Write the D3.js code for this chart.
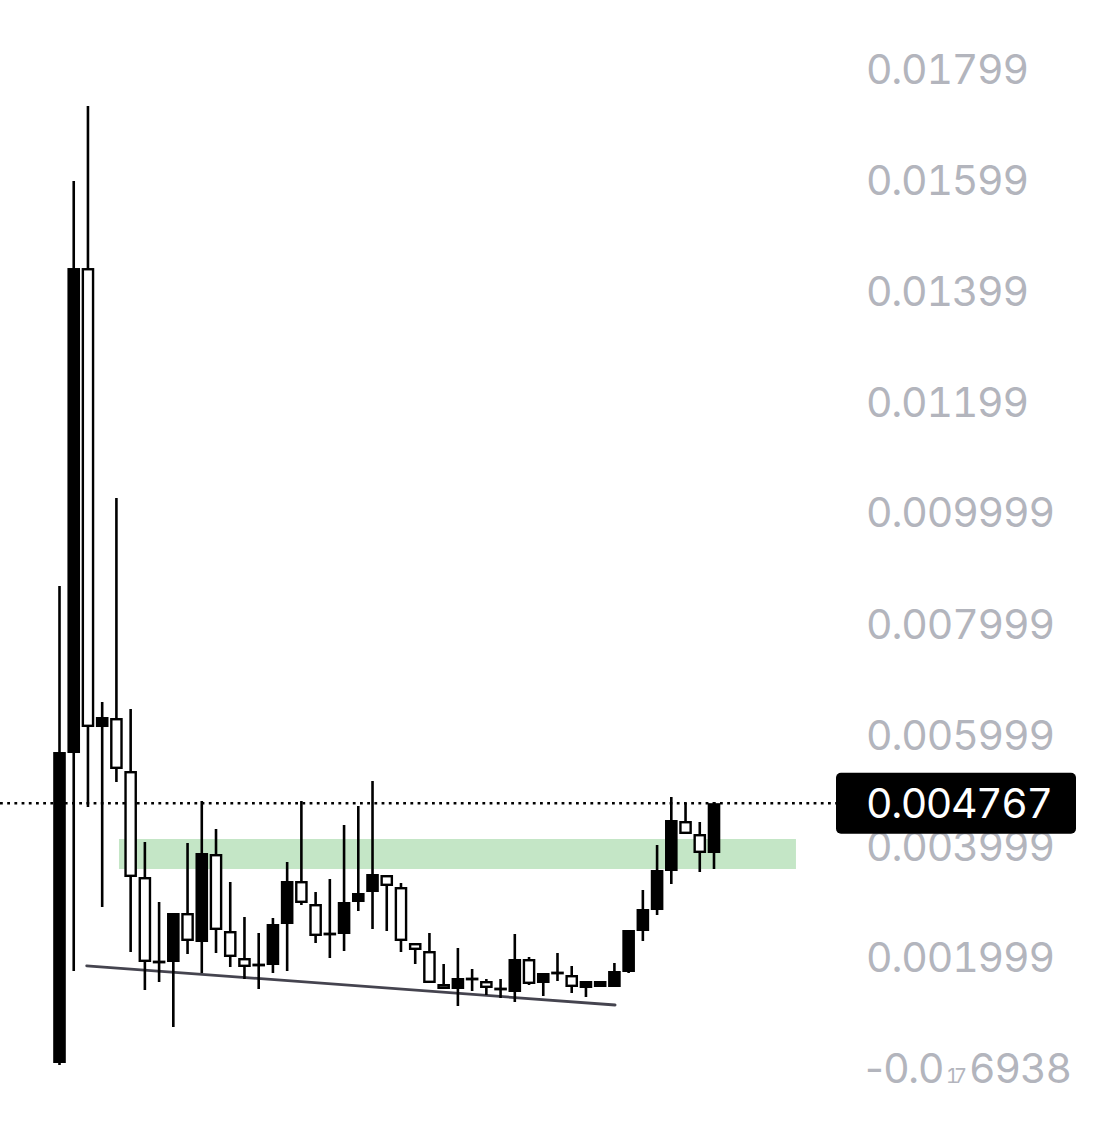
<!DOCTYPE html>
<html>
<head>
<meta charset="utf-8">
<script src="https://cdn.jsdelivr.net/npm/d3@7"></script>
<style>
html,body{margin:0;padding:0;background:#fff;}
svg{display:block;}
text.tab{font-feature-settings:"tnum" 1;font-variant-numeric:tabular-nums;}
</style>
</head>
<body>
<script>
// ---- data ----
const opens  = [0.00009,0.00567,0.0144,0.006138,0.0063,0.005346,0.003438,0.001908,0.001908,0.00279,
                0.002268,0.003852,0.002466,0.00198,0.001854,0.001854,0.002592,0.003366,0.002952,0.002412,
                0.002412,0.002988,0.003168,0.003474,0.003258,0.00225,0.002106,0.001512,0.001422,0.001602,
                0.001566,0.001422,0.001368,0.001962,0.00153,0.00171,0.001674,0.00144,0.001458,0.001458,
                0.001728,0.002466,0.002844,0.003546,0.004446,0.004212,0.00387];
const closes = [0.005688,0.0144,0.006138,0.006318,0.005382,0.003438,0.001908,0.001908,0.00279,0.002286,
                0.00387,0.002484,0.001998,0.001818,0.001854,0.002592,0.003366,0.00297,0.002376,0.002412,
                0.002988,0.00315,0.003492,0.003276,0.002286,0.002124,0.00153,0.001422,0.00162,0.001602,
                0.00144,0.001422,0.001962,0.001512,0.00171,0.00171,0.001458,0.001566,0.001566,0.001746,
                0.002484,0.002862,0.003564,0.004464,0.004212,0.00387,0.004767];
const highs  = [0.008676,0.015966,0.017316,0.006588,0.01026,0.006462,0.004068,0.002988,0.00279,0.00405,
                0.004806,0.004302,0.003348,0.002718,0.00243,0.0027,0.003708,0.004806,0.003168,0.003402,
                0.004374,0.004716,0.005166,0.003474,0.00333,0.00225,0.00243,0.001872,0.00216,0.001782,
                0.001602,0.001602,0.002412,0.001998,0.00171,0.00207,0.001836,0.001566,0.001566,0.00189,
                0.002484,0.003204,0.004014,0.004878,0.00477,0.004428,0.004788];
const lows   = [0.000054,0.001746,0.004698,0.002898,0.005148,0.002088,0.001404,0.001548,0.000738,0.002052,
                0.00171,0.00207,0.001818,0.001602,0.001422,0.00171,0.001746,0.002934,0.00225,0.00198,
                0.002106,0.002826,0.002502,0.002466,0.002088,0.001872,0.00153,0.001422,0.001116,0.001386,
                0.001314,0.00126,0.001188,0.001494,0.001296,0.001566,0.00135,0.001278,0.001458,0.001458,
                0.00171,0.002286,0.002754,0.003312,0.004212,0.003528,0.003582];

const tickValues = [0.01799,0.01599,0.01399,0.01199,0.009999,0.007999,0.005999,0.003999,0.001999,0];
const tickLabels = ["0.01799","0.01599","0.01399","0.01199","0.009999","0.007999","0.005999","0.003999","0.001999","-0.0|17|6938"];

const lastPrice = 0.004767;
const lastPriceLabel = "0.004767";

const zoneX = [4.18, 51.76];          // candle-index extent of the green zone
const zoneY = [0.003582, 0.004122];   // price extent of the green zone

const trendX = [1.91, 39.05];         // candle-index ends of trend line
const trendY = [0.00184, 0.001134];   // price ends of trend line

// ---- layout ----
const W = 1112, H = 1121;
const svg = d3.select("body").append("svg").attr("width", W).attr("height", H);
svg.append("rect").attr("width", W).attr("height", H).attr("fill", "#fff");

const x = d3.scaleLinear().domain([0, opens.length - 1]).range([59.5, 714]);
const y = d3.scaleLinear().domain([0, 0.01799]).range([1068, 68.6]);

const bodyW = 12.6;
const ink = "#000";

// green zone
svg.append("rect")
  .attr("x", x(zoneX[0])).attr("width", x(zoneX[1]) - x(zoneX[0]))
  .attr("y", y(zoneY[1])).attr("height", y(zoneY[0]) - y(zoneY[1]))
  .attr("fill", "#c4e6c6");

// trend line
svg.append("line")
  .attr("x1", x(trendX[0])).attr("y1", y(trendY[0]))
  .attr("x2", x(trendX[1])).attr("y2", y(trendY[1]))
  .attr("stroke", "#45444f").attr("stroke-width", 2.8).attr("stroke-linecap", "round");

// dotted last price line
svg.append("line")
  .attr("x1", 0).attr("x2", 836)
  .attr("y1", y(lastPrice)).attr("y2", y(lastPrice))
  .attr("stroke", "#000").attr("stroke-width", 2.6)
  .attr("stroke-dasharray", "2.8,4.4");

const idx = d3.range(opens.length);
const g = svg.append("g");

// wicks
g.selectAll("line.wick").data(idx).join("line")
  .attr("class", "wick")
  .attr("x1", i => x(i)).attr("x2", i => x(i))
  .attr("y1", i => y(highs[i])).attr("y2", i => y(lows[i]))
  .attr("stroke", ink).attr("stroke-width", 2.6);

// bodies
idx.forEach(i => {
  const o = opens[i], c = closes[i];
  const top = y(Math.max(o, c)), bot = y(Math.min(o, c));
  let h = bot - top;
  const up = c >= o;
  if (up || h < 4) {
    const hh = Math.max(h, 2.8);
    const yy = h < 2.8 ? (top + bot) / 2 - hh / 2 : top;
    g.append("rect")
      .attr("x", x(i) - bodyW / 2).attr("width", bodyW)
      .attr("y", yy).attr("height", hh)
      .attr("fill", ink);
  } else {
    g.append("rect")
      .attr("x", x(i) - bodyW / 2 + 1.2).attr("width", bodyW - 2.4)
      .attr("y", top + 1.2).attr("height", Math.max(h - 2.4, 0.5))
      .attr("fill", "#fff").attr("stroke", ink).attr("stroke-width", 2.4);
  }
});

// axis labels
const fontFam = "Inter, 'Liberation Sans', Arial, sans-serif";
const fs = 41;
const labelX = 866;
const grey = "#b3b5bd";

// set letter-spacing so a text's inked width matches a target
function fit(t, target) {
  t.attr("letter-spacing", 0);
  const n = t.text().length;
  const w = t.node().getBBox().width;
  t.attr("letter-spacing", (target - w) / (n - 1));
  return t;
}

function addText(str, xx, yy, size, fill, tab) {
  return svg.append("text")
    .attr("class", tab ? "tab" : null)
    .attr("x", xx).attr("y", yy)
    .attr("font-family", fontFam).attr("font-size", size)
    .attr("fill", fill).text(str);
}

tickValues.forEach((v, k) => {
  const ty = y(v) + fs * 0.365;
  const s = tickLabels[k];
  if (s.includes("|")) {
    const parts = s.split("|");
    fit(addText(parts[0], labelX - 1, ty, fs, grey, false), 79);
    fit(addText(parts[1], 946, ty, 20, grey, true), 21);
    fit(addText(parts[2], 969, ty, fs, grey, true), 103);
  } else {
    fit(addText(s, labelX, ty, fs, grey, true), s.length === 7 ? 163 : 189);
  }
});

// last price badge
const py = y(lastPrice);
svg.append("rect")
  .attr("x", 836).attr("y", py - 30.5).attr("width", 240).attr("height", 61)
  .attr("rx", 5).attr("fill", "#000");
fit(addText(lastPriceLabel, labelX, py + fs * 0.365, fs, "#fff", true), 187);
</script>
</body>
</html>
